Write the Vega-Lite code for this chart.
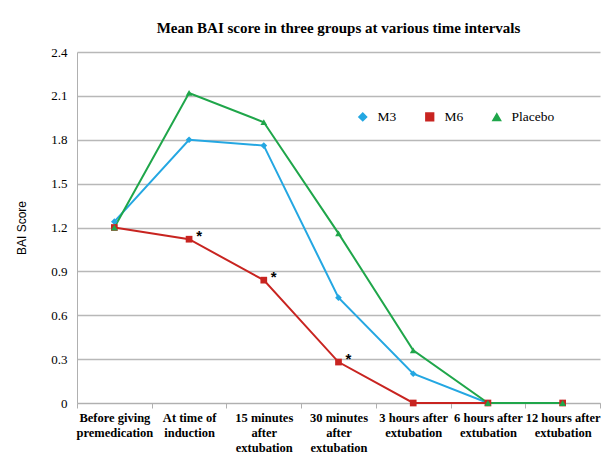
{
  "$schema": "https://vega.github.io/schema/vega-lite/v6.json",
  "autosize": "none",
  "width": 523,
  "height": 351,
  "padding": {"left": 77, "top": 52, "right": 7, "bottom": 64},
  "background": "white",
  "title": {
    "text": "Mean BAI score in three groups at various time intervals",
    "font": "Liberation Serif",
    "fontSize": 15,
    "fontWeight": "bold",
    "color": "black",
    "anchor": "middle",
    "offset": 10
  },
  "data": {
    "values": [
      {"time": "Before giving premedication", "group": "M3", "score": 1.24, "sig": ""},
      {"time": "At time of induction", "group": "M3", "score": 1.80, "sig": ""},
      {"time": "15 minutes after extubation", "group": "M3", "score": 1.76, "sig": ""},
      {"time": "30 minutes after extubation", "group": "M3", "score": 0.72, "sig": ""},
      {"time": "3 hours after extubation", "group": "M3", "score": 0.20, "sig": ""},
      {"time": "6 hours after extubation", "group": "M3", "score": 0, "sig": ""},
      {"time": "12 hours after extubation", "group": "M3", "score": 0, "sig": ""},
      {"time": "Before giving premedication", "group": "M6", "score": 1.20, "sig": ""},
      {"time": "At time of induction", "group": "M6", "score": 1.12, "sig": "*"},
      {"time": "15 minutes after extubation", "group": "M6", "score": 0.84, "sig": "*"},
      {"time": "30 minutes after extubation", "group": "M6", "score": 0.28, "sig": "*"},
      {"time": "3 hours after extubation", "group": "M6", "score": 0, "sig": ""},
      {"time": "6 hours after extubation", "group": "M6", "score": 0, "sig": ""},
      {"time": "12 hours after extubation", "group": "M6", "score": 0, "sig": ""},
      {"time": "Before giving premedication", "group": "Placebo", "score": 1.20, "sig": ""},
      {"time": "At time of induction", "group": "Placebo", "score": 2.12, "sig": ""},
      {"time": "15 minutes after extubation", "group": "Placebo", "score": 1.92, "sig": ""},
      {"time": "30 minutes after extubation", "group": "Placebo", "score": 1.16, "sig": ""},
      {"time": "3 hours after extubation", "group": "Placebo", "score": 0.36, "sig": ""},
      {"time": "6 hours after extubation", "group": "Placebo", "score": 0, "sig": ""},
      {"time": "12 hours after extubation", "group": "Placebo", "score": 0, "sig": ""}
    ]
  },
  "encoding": {
    "x": {
      "field": "time",
      "type": "nominal",
      "sort": null,
      "scale": {"type": "band", "paddingInner": 0, "paddingOuter": 0},
      "axis": {
        "title": null,
        "labelAngle": 0,
        "tickBand": "extent",
        "domainColor": "#b0b0b0",
        "tickColor": "#b0b0b0",
        "tickSize": 5,
        "labelFont": "Liberation Serif",
        "labelFontSize": 12.5,
        "labelFontWeight": "bold",
        "labelColor": "black",
        "labelPadding": 3,
        "labelLineHeight": 15,
        "labelBaseline": "top",
        "labelOverlap": false,
        "labelExpr": "datum.value == 'Before giving premedication' ? ['Before giving','premedication'] : datum.value == 'At time of induction' ? ['At time of','induction'] : datum.value == '15 minutes after extubation' ? ['15 minutes','after','extubation'] : datum.value == '30 minutes after extubation' ? ['30 minutes','after','extubation'] : datum.value == '3 hours after extubation' ? ['3 hours after','extubation'] : datum.value == '6 hours after extubation' ? ['6 hours after','extubation'] : datum.value == '12 hours after extubation' ? ['12 hours after','extubation'] : ''"
      }
    },
    "y": {
      "field": "score",
      "type": "quantitative",
      "scale": {"domain": [0, 2.4], "nice": false},
      "axis": {
        "title": "BAI Score",
        "titleFont": "Liberation Sans",
        "titleFontSize": 12,
        "titleFontWeight": "normal",
        "titleColor": "black",
        "titlePadding": 22,
        "values": [0, 0.3, 0.6, 0.9, 1.2, 1.5, 1.8, 2.1, 2.4],
        "labelExpr": "datum.value == 0 ? '0' : format(datum.value, '.1f')",
        "labelFont": "Liberation Serif",
        "labelFontSize": 13,
        "labelColor": "black",
        "labelPadding": 10,
        "gridColor": "#b8b8b8",
        "gridWidth": 1.3,
        "domainColor": "#b0b0b0",
        "ticks": false
      }
    },
    "color": {
      "field": "group",
      "type": "nominal",
      "scale": {"domain": ["M3", "M6", "Placebo"], "range": ["#24A7E2", "#C82420", "#1FA64A"]},
      "legend": {
        "title": null,
        "orient": "none",
        "legendX": 279,
        "legendY": 58,
        "direction": "horizontal",
        "labelFont": "Liberation Serif",
        "labelFontSize": 13.5,
        "labelColor": "black",
        "labelOffset": 8,
        "symbolSize": 60,
        "columnPadding": 25
      }
    }
  },
  "layer": [
    {
      "mark": {"type": "line", "strokeWidth": 2},
      "encoding": {"detail": {"field": "group"}}
    },
    {
      "mark": {"type": "point", "filled": true, "size": 45, "opacity": 1},
      "encoding": {
        "shape": {
          "field": "group",
          "type": "nominal",
          "scale": {"domain": ["M3", "M6", "Placebo"], "range": ["diamond", "square", "triangle-up"]},
          "legend": {
            "title": null,
            "orient": "none",
            "legendX": 279,
            "legendY": 58,
            "direction": "horizontal",
            "labelFont": "Liberation Serif",
            "labelFontSize": 13.5,
            "labelColor": "black",
            "labelOffset": 8,
            "symbolSize": 60,
            "columnPadding": 25
          }
        }
      }
    },
    {
      "transform": [{"filter": "datum.sig == '*'"}],
      "mark": {"type": "text", "dx": 10, "dy": -3, "font": "Liberation Sans", "fontSize": 15, "fontWeight": "bold", "color": "black"},
      "encoding": {"text": {"field": "sig"}, "color": {"value": "black"}}
    }
  ],
  "config": {"view": {"stroke": null}}
}
